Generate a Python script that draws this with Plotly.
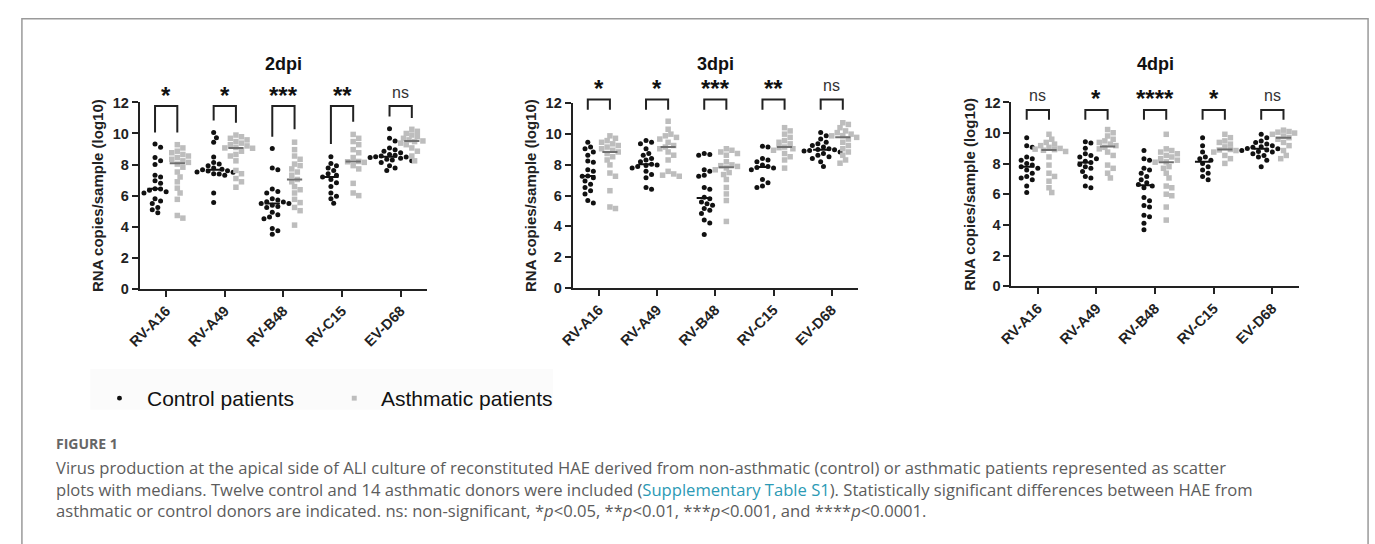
import numpy as np
import plotly.graph_objects as go

W, H = 1375, 544

viruses = ["RV-A16", "RV-A49", "RV-B48", "RV-C15", "EV-D68"]
day_titles = ["2dpi", "3dpi", "4dpi"]

ctrl_2dpi = [
    [9.32, 9.11, 8.45, 8.24, 8.0, 7.31, 7.2, 6.96, 6.79, 6.45, 6.42, 6.34, 6.25, 6.17, 5.8, 5.65, 5.49, 5.24, 5.09, 4.89],
    [10.06, 9.73, 9.44, 8.49, 8.14, 8.03, 7.93, 7.78, 7.7, 7.66, 7.6, 7.58, 7.52, 7.5, 7.41, 7.4, 7.31, 6.17, 5.55],
    [9.03, 7.78, 7.66, 6.42, 6.27, 6.17, 5.8, 5.71, 5.6, 5.59, 5.5, 5.49, 5.38, 5.3, 5.24, 4.93, 4.76, 4.62, 4.51, 3.89, 3.73, 3.52],
    [8.51, 8.07, 7.93, 7.78, 7.62, 7.41, 7.31, 7.2, 7.04, 6.83, 6.58, 6.17, 5.96, 5.8, 5.51],
    [10.31, 9.69, 9.52, 9.07, 8.96, 8.86, 8.76, 8.65, 8.6, 8.55, 8.5, 8.49, 8.45, 8.4, 8.34, 8.3, 8.24, 8.14, 7.93, 7.78, 7.62],
]
asth_2dpi = [
    [9.28, 9.07, 8.86, 8.76, 8.65, 8.55, 8.45, 8.34, 8.24, 8.14, 8.03, 7.83, 7.52, 7.2, 6.89, 6.48, 6.17, 5.76, 4.72, 4.55],
    [9.9, 9.79, 9.69, 9.59, 9.48, 9.38, 9.28, 9.2, 9.1, 9.07, 9.05, 8.86, 8.65, 8.55, 8.24, 7.62, 7.41, 7.1, 6.89, 6.54],
    [9.44, 8.96, 8.55, 8.34, 8.03, 7.93, 7.72, 7.52, 7.31, 7.04, 6.89, 6.58, 6.38, 6.17, 5.76, 5.55, 5.24, 5.03, 4.1],
    [9.94, 9.69, 9.48, 9.28, 8.96, 8.76, 8.45, 8.2, 8.18, 8.14, 7.93, 7.72, 6.79, 6.17, 6.0],
    [10.27, 10.14, 10.0, 9.9, 9.79, 9.69, 9.59, 9.52, 9.48, 9.38, 9.28, 9.07, 8.86, 8.55, 8.24],
]
ctrl_3dpi = [
    [9.47, 9.16, 9.05, 8.84, 8.63, 8.25, 8.17, 7.68, 7.58, 7.28, 7.26, 7.16, 6.95, 6.74, 6.53, 6.32, 6.11, 5.68, 5.52],
    [9.58, 9.47, 9.37, 9.05, 8.74, 8.63, 8.42, 8.32, 8.21, 8.0, 8.04, 7.96, 7.89, 7.79, 7.58, 7.37, 7.16, 6.53, 6.42],
    [8.74, 8.67, 8.63, 7.68, 7.58, 7.33, 7.26, 6.53, 6.42, 5.89, 5.79, 5.58, 5.47, 5.37, 5.16, 5.05, 4.84, 4.42, 4.21, 3.47],
    [9.22, 9.16, 8.42, 8.32, 8.21, 8.0, 7.89, 7.83, 7.79, 7.68, 7.05, 6.84, 6.63, 6.53],
    [10.1, 9.89, 9.68, 9.47, 9.37, 9.26, 9.16, 9.05, 9.0, 8.99, 8.93, 8.9, 8.84, 8.74, 8.63, 8.53, 8.42, 8.21, 7.89],
]
asth_3dpi = [
    [9.89, 9.73, 9.58, 9.47, 9.37, 9.26, 9.16, 9.05, 8.95, 8.84, 8.74, 8.53, 8.32, 8.0, 7.47, 7.26, 6.32, 5.26, 5.16],
    [10.84, 10.32, 10.0, 9.89, 9.79, 9.68, 9.47, 9.26, 9.16, 9.05, 8.84, 8.63, 8.32, 7.58, 7.41, 7.33, 7.26],
    [9.05, 8.95, 8.84, 8.74, 8.63, 8.2, 8.0, 7.95, 7.9, 7.8, 7.68, 7.5, 7.37, 7.05, 6.53, 6.11, 5.68, 4.32],
    [10.42, 10.21, 10.0, 9.79, 9.58, 9.47, 9.37, 9.16, 9.12, 9.05, 8.95, 8.74, 8.53, 8.32, 7.79],
    [10.74, 10.63, 10.42, 10.21, 10.1, 10.0, 9.9, 9.89, 9.79, 9.68, 9.47, 9.26, 9.05, 8.84, 8.63, 8.32, 8.11],
]
ctrl_4dpi = [
    [9.7, 9.18, 9.07, 8.44, 8.33, 8.23, 8.02, 7.91, 7.81, 7.7, 7.59, 7.38, 7.17, 7.07, 6.96, 6.54, 6.12],
    [9.43, 9.35, 9.01, 8.65, 8.54, 8.44, 8.33, 8.16, 8.08, 7.95, 7.81, 7.7, 7.49, 7.17, 7.07, 6.54, 6.43],
    [8.86, 8.33, 8.23, 7.7, 7.59, 7.38, 7.17, 6.96, 6.75, 6.65, 6.54, 6.43, 5.8, 5.59, 5.27, 5.17, 4.64, 4.54, 4.11, 3.69],
    [9.7, 9.18, 8.76, 8.44, 8.33, 8.23, 8.02, 7.81, 7.59, 7.38, 7.17, 6.96],
    [9.92, 9.7, 9.49, 9.39, 9.28, 9.18, 9.1, 9.07, 9.0, 8.97, 8.9, 8.86, 8.8, 8.76, 8.65, 8.54, 8.44, 8.23, 7.81],
]
asth_4dpi = [
    [9.92, 9.6, 9.39, 9.28, 9.18, 9.07, 9.0, 8.95, 8.92, 8.88, 8.8, 8.44, 7.91, 7.38, 7.17, 6.86, 6.43, 6.12],
    [10.23, 10.02, 9.81, 9.6, 9.49, 9.39, 9.28, 9.18, 9.07, 8.97, 8.76, 8.54, 7.91, 7.7, 7.38, 7.07],
    [9.92, 8.97, 8.86, 8.76, 8.65, 8.54, 8.44, 8.33, 8.23, 8.12, 8.1, 7.81, 7.7, 7.38, 7.07, 6.54, 6.43, 6.01, 5.91, 5.17, 4.32],
    [9.92, 9.7, 9.49, 9.39, 9.28, 9.1, 8.93, 8.9, 8.86, 8.76, 8.54, 8.33, 8.02],
    [10.19, 10.1, 10.06, 10.0, 9.92, 9.81, 9.7, 9.6, 9.39, 9.18, 8.86, 8.54, 8.33],
]
sig_2dpi = ["*", "*", "***", "**", "ns"]
sig_3dpi = ["*", "*", "***", "**", "ns"]
sig_4dpi = ["ns", "*", "****", "*", "ns"]

legend_labels = ["Control patients", "Asthmatic patients"]
caption_head = "FIGURE 1"
caption_lines = [
    "Virus production at the apical side of ALI culture of reconstituted HAE derived from non-asthmatic (control) or asthmatic patients represented as scatter",
    "plots with medians. Twelve control and 14 asthmatic donors were included (<span style='color:#2b9ab5'>Supplementary Table S1</span>). Statistically significant differences between HAE from",
    "asthmatic or control donors are indicated. ns: non-significant, *<i>p</i>&lt;0.05, **<i>p</i>&lt;0.01, ***<i>p</i>&lt;0.001, and ****<i>p</i>&lt;0.0001.",
]

# ---------------- layout / style ----------------
FONT = "Liberation Sans, Arial, sans-serif"
CAP_FONT = "Open Sans, Lato, sans-serif"
AX = "#222222"
CTRL_C = "#111111"
ASTH_C = "#bdbdbd"
XR = (-0.45, 4.45)
OFF = 0.19

panels = [
    dict(ctrl=ctrl_2dpi, asth=asth_2dpi, sig=sig_2dpi, xd=(128, 418), yd=(97.3, 289.3),
         top=11.77, legL=[10.06, 10.83, 9.79, 9.33, 11.1], legR=[10.06, 10.69, 10.27, 10.75, 11.0], sig_y=87),
    dict(ctrl=ctrl_3dpi, asth=asth_3dpi, sig=sig_3dpi, xd=(565, 853), yd=(98.3, 288.3),
         top=12.25, legL=[11.58] * 5, legR=[11.58] * 5, sig_y=80),
    dict(ctrl=ctrl_4dpi, asth=asth_4dpi, sig=sig_4dpi, xd=(1008, 1298), yd=(97.3, 286.7),
         top=11.5, legL=[10.87] * 5, legR=[10.87] * 5, sig_y=90),
]


def pxx(x):
    return x / W


def pxy(y):
    return 1 - y / H


def swarm(vals, ppu_x, ppu_y, diam=5.4, step=2.8):
    vals = np.asarray(vals, dtype=float)
    order = np.argsort(-vals)
    placed = []
    xs = np.zeros(len(vals))
    cands = [0.0]
    for j in range(1, 12):
        cands += [j * step, -j * step]
    for i in order:
        yv = vals[i] * ppu_y
        chosen = cands[-1]
        for c in cands:
            if all((c - a) ** 2 + (yv - b) ** 2 >= diam ** 2 for a, b in placed):
                chosen = c
                break
        placed.append((chosen, yv))
        xs[i] = chosen / ppu_x
    return xs


fig = go.Figure()
shapes = []
annotations = []

for k, p in enumerate(panels):
    n = k + 1
    xa = "x" if n == 1 else f"x{n}"
    ya = "y" if n == 1 else f"y{n}"
    ppu_x = (p["xd"][1] - p["xd"][0]) / (XR[1] - XR[0])
    ppu_y = (p["yd"][1] - p["yd"][0]) / 12.0

    def dx(v):
        return pxx(p["xd"][0] + (v - XR[0]) * ppu_x)

    def dy(v):
        return pxy(p["yd"][1] - v * ppu_y)

    for grp, sign, color, sym, mcol in [("ctrl", -1, CTRL_C, "circle", CTRL_C),
                                         ("asth", 1, ASTH_C, "square", "#6f6f6f")]:
        xs, ys, mx, my = [], [], [], []
        for i, vals in enumerate(p[grp]):
            c = i + sign * OFF
            off = swarm(vals, ppu_x, ppu_y)
            xs += list(c + off)
            ys += list(vals)
            m = float(np.median(vals))
            mx += [c - 0.13, c + 0.13, None]
            my += [m, m, None]
        fig.add_trace(go.Scatter(x=xs, y=ys, mode="markers", xaxis=xa, yaxis=ya,
                                 marker=dict(color=color, size=5 if sym == "circle" else 5.5,
                                             symbol=sym, line=dict(width=0)),
                                 showlegend=False, cliponaxis=False, hoverinfo="y"))
        fig.add_trace(go.Scatter(x=mx, y=my, mode="lines", xaxis=xa, yaxis=ya,
                                 line=dict(color=mcol, width=2), showlegend=False,
                                 hoverinfo="skip"))

    # brackets and significance labels
    for i in range(5):
        xl, xr = i - OFF, i + OFF
        path = (f"M {dx(xl)},{dy(p['legL'][i])} L {dx(xl)},{dy(p['top'])} "
                f"L {dx(xr)},{dy(p['top'])} L {dx(xr)},{dy(p['legR'][i])}")
        shapes.append(dict(type="path", xref="paper", yref="paper", path=path,
                           line=dict(color=AX, width=2)))
        s = p["sig"][i]
        if s == "ns":
            annotations.append(dict(x=i, xref=xa, y=pxy(p["sig_y"]), yref="paper", text="ns",
                                    showarrow=False, yanchor="middle",
                                    font=dict(family=FONT, size=16, color="#333333")))
        else:
            annotations.append(dict(x=i, xref=xa, y=pxy(p["sig_y"]), yref="paper", text=s,
                                    showarrow=False, yanchor="middle", yshift=-3,
                                    font=dict(family=FONT, size=24, color="#111111", weight="bold")))

    annotations.append(dict(x=2, xref=xa, y=pxy(58), yref="paper", text=day_titles[k],
                            showarrow=False, yanchor="middle",
                            font=dict(family=FONT, size=18, color="#111111", weight="bold")))

    tickfont = dict(family=FONT, size=14.5, color=AX, weight="bold")
    fig.update_layout(**{
        ("xaxis" if n == 1 else f"xaxis{n}"): dict(
            domain=[pxx(p["xd"][0]), pxx(p["xd"][1])], range=list(XR), anchor=ya,
            tickmode="array", tickvals=list(range(5)), ticktext=viruses, tickangle=-45,
            ticks="outside", ticklen=6, tickwidth=2, tickcolor=AX,
            showline=True, linewidth=2, linecolor=AX, showgrid=False, zeroline=False,
            tickfont=tickfont, fixedrange=True),
        ("yaxis" if n == 1 else f"yaxis{n}"): dict(
            domain=[pxy(p["yd"][1]), pxy(p["yd"][0])], range=[0, 12], anchor=xa,
            tickmode="linear", tick0=0, dtick=2,
            ticks="outside", ticklen=6, tickwidth=2, tickcolor=AX,
            showline=True, linewidth=2, linecolor=AX, showgrid=False, zeroline=False,
            tickfont=tickfont, fixedrange=True,
            title=dict(text="RNA copies/sample (log10)", standoff=5,
                       font=dict(family=FONT, size=15, color=AX, weight="bold"))),
    })

# outer frame
shapes.append(dict(type="rect", xref="paper", yref="paper", x0=pxx(9), x1=pxx(1368),
                   y0=pxy(560), y1=pxy(11), line=dict(color="#9a9a9a", width=1.5)))
# legend band
shapes.append(dict(type="rect", xref="paper", yref="paper", x0=pxx(78), x1=pxx(545),
                   y0=pxy(414), y1=pxy(372), line=dict(width=0), fillcolor="#fbfbfb", layer="below"))
# legend symbols
shapes.append(dict(type="circle", xref="paper", yref="paper", x0=pxx(105), x1=pxx(110),
                   y0=pxy(404.5), y1=pxy(399.5), line=dict(width=0), fillcolor="#111111"))
shapes.append(dict(type="rect", xref="paper", yref="paper", x0=pxx(342), x1=pxx(347),
                   y0=pxy(404.5), y1=pxy(399.5), line=dict(width=0), fillcolor="#bdbdbd"))
annotations.append(dict(x=pxx(133), y=pxy(402), xref="paper", yref="paper", text=legend_labels[0],
                        showarrow=False, xanchor="left", yanchor="middle",
                        font=dict(family=FONT, size=21, color="#111111")))
annotations.append(dict(x=pxx(369), y=pxy(402), xref="paper", yref="paper", text=legend_labels[1],
                        showarrow=False, xanchor="left", yanchor="middle",
                        font=dict(family=FONT, size=21, color="#111111")))

# caption
annotations.append(dict(x=pxx(41), y=pxy(449), xref="paper", yref="paper", text="<b>" + caption_head + "</b>",
                        showarrow=False, xanchor="left", yanchor="middle",
                        font=dict(family=CAP_FONT, size=14, color="#666666")))
annotations.append(dict(x=pxx(41), y=pxy(460), xref="paper", yref="paper", text="<br>".join(caption_lines),
                        showarrow=False, xanchor="left", yanchor="top", align="left",
                        font=dict(family=CAP_FONT, size=16.6, color="#5c5c5c")))

fig.update_layout(width=W, height=H, margin=dict(l=0, r=0, t=0, b=0),
                  paper_bgcolor="white", plot_bgcolor="white",
                  shapes=shapes, annotations=annotations, showlegend=False)

fig.write_html("out.html")
